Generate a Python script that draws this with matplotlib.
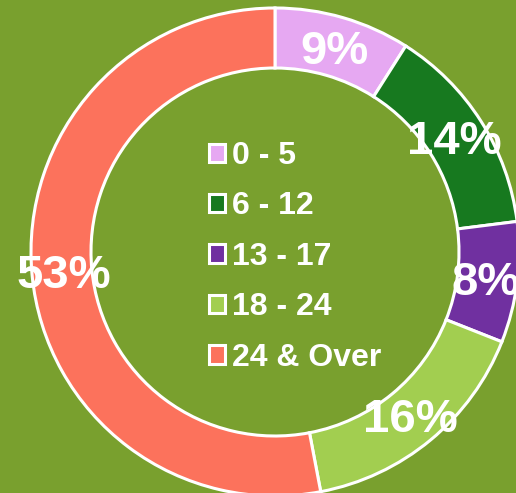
import matplotlib.pyplot as plt

# =========================
# DATA
# =========================
age_groups = ['0 - 5', '6 - 12', '13 - 17', '18 - 24', '24 & Over']
shares = [9, 14, 8, 16, 53]
colors = ['#e6a8f2', '#17791f', '#7030a0', '#a2ce50', '#fc725c']
BG = '#79a02e'

# =========================
# FIGURE (pixel-like data coords)
# =========================
W, H = 516, 493
fig = plt.figure(figsize=(W / 100, H / 100), dpi=100, facecolor=BG)
ax = fig.add_axes([0, 0, 1, 1])
ax.set_facecolor(BG)

R = 244
wedges, texts, autotexts = ax.pie(
    shares, colors=colors, center=(275, H - 252), radius=R,
    startangle=90, counterclock=False,
    autopct=lambda p: f'{round(p)}%', pctdistance=0.87,
    wedgeprops=dict(width=60, edgecolor='white', linewidth=2.2),
    textprops=dict(color='white', fontsize=34, fontweight='bold',
                   family='Liberation Sans'),
    frame=True)
ax.set_xlim(0, W)
ax.set_ylim(0, H)
ax.set_aspect('equal')
ax.axis('off')

# nudge the percent labels down a touch
for t in autotexts:
    x, y = t.get_position()
    t.set_position((x, y - 4))

# legend in the middle of the ring
leg = ax.legend(wedges, age_groups, loc='upper left',
                bbox_to_anchor=(209, H - 141), bbox_transform=ax.transData,
                frameon=False, borderpad=0, borderaxespad=0,
                handlelength=0.5, handleheight=0.5, handletextpad=0.22,
                labelspacing=0.64,
                prop=dict(family='Liberation Sans', weight='bold', size=23))
for t in leg.get_texts():
    t.set_color('white')

fig.savefig('out.png', dpi=100, facecolor=BG)
